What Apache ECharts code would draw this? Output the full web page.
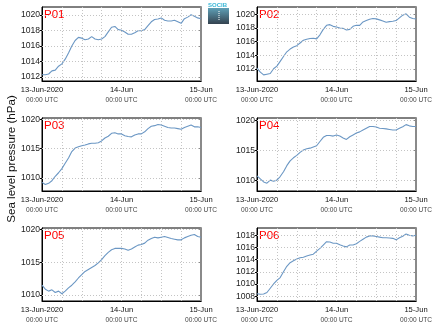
<!DOCTYPE html>
<html><head><meta charset="utf-8">
<script src="https://cdn.jsdelivr.net/npm/echarts@6/dist/echarts.min.js"></script>
<style>html,body{margin:0;padding:0;background:#fff}#c{width:435px;height:327px}</style>
</head><body><div id="c"></div>
<script>
// hours since 13-Jun-2020 00:00 UTC
const hours = [0,1,2,3,4,5,6,7,8,9,10,11,12,13,14,15,16,17,18,19,20,21,22,23,24,25,26,27,28,29,30,31,32,33,34,35,36,37,38,39,40,41,42,43,44,45,46,47,48];
const stationNames = ['P01','P02','P03','P04','P05','P06'];
const p01 = [1012.3,1012.3,1012.4,1012.8,1012.9,1013.4,1013.7,1014.3,1015.1,1016.0,1016.7,1017.1,1017.0,1016.8,1016.9,1017.2,1016.9,1016.8,1016.9,1017.2,1017.8,1018.4,1018.5,1018.1,1018.0,1017.8,1017.5,1017.5,1017.7,1017.95,1017.95,1018.1,1018.6,1019.1,1019.4,1019.45,1019.6,1019.3,1019.2,1019.2,1019.3,1019.1,1018.9,1019.5,1019.7,1020.0,1019.8,1019.6,1019.5];
const p02 = [1012.1,1011.5,1011.1,1011.2,1011.3,1012.0,1012.4,1013.1,1013.8,1014.5,1014.9,1015.2,1015.4,1015.8,1016.2,1016.35,1016.45,1016.5,1016.4,1017.0,1017.8,1018.4,1018.5,1018.25,1018.15,1018.0,1017.95,1017.7,1017.8,1018.25,1018.4,1018.4,1018.9,1019.1,1019.3,1019.4,1019.35,1019.2,1019.05,1018.85,1018.95,1019.0,1019.1,1019.5,1019.9,1020.1,1019.6,1019.4,1019.35];
const p03 = [1009.26,1008.9,1009.1,1009.55,1010.3,1010.9,1011.6,1012.5,1013.4,1014.5,1015.1,1015.3,1015.5,1015.6,1015.8,1015.9,1015.9,1016.0,1016.3,1016.8,1017.1,1017.6,1017.7,1017.5,1017.5,1017.2,1017.05,1017.0,1017.3,1017.5,1017.5,1017.85,1018.4,1018.8,1018.9,1019.1,1019.0,1018.8,1018.6,1018.5,1018.5,1018.4,1018.3,1018.6,1018.8,1019.0,1018.7,1018.7,1018.6];
const p04 = [1010.8,1010.3,1009.8,1009.6,1010.1,1009.9,1010.1,1010.7,1011.5,1012.5,1013.3,1013.8,1014.2,1014.7,1015.1,1015.3,1015.4,1015.6,1015.8,1016.5,1017.2,1017.5,1017.5,1017.4,1017.6,1017.4,1017.1,1016.85,1017.3,1017.6,1017.9,1018.1,1018.4,1018.7,1019.0,1019.0,1018.9,1018.7,1018.65,1018.6,1018.5,1018.4,1018.4,1018.7,1018.95,1019.3,1019.1,1019.0,1019.0];
const p05 = [1011.5,1010.9,1010.6,1010.8,1010.4,1010.6,1010.2,1010.6,1011.1,1011.5,1012.0,1012.6,1013.1,1013.6,1013.9,1014.2,1014.5,1014.9,1015.4,1016.0,1016.5,1016.9,1017.1,1017.1,1017.1,1017.0,1016.8,1017.0,1017.3,1017.6,1017.7,1017.9,1018.35,1018.6,1018.8,1018.7,1018.8,1018.9,1018.75,1018.6,1018.5,1018.4,1018.4,1018.7,1018.9,1019.1,1019.2,1018.9,1018.8];
const p06 = [1008.4,1008.3,1008.35,1008.6,1009.3,1010.0,1010.6,1011.05,1012.0,1012.9,1013.5,1013.8,1014.1,1014.3,1014.4,1014.6,1014.75,1014.9,1015.4,1015.85,1016.4,1016.95,1016.9,1016.7,1016.7,1016.45,1016.25,1016.1,1016.4,1016.4,1016.6,1017.0,1017.35,1017.7,1017.9,1017.9,1017.8,1017.7,1017.6,1017.6,1017.55,1017.5,1017.25,1017.6,1017.85,1018.2,1018.0,1017.9,1018.0];
const seriesValues = [p01,p02,p03,p04,p05,p06];
const yMins = [1011.5,1010.2,1007.8,1008.3,1009.1,1007.2];
const yMaxs = [1021.0,1021.1,1020.2,1020.4,1020.2,1019.2];
const yTicks = [
  [1012,1014,1016,1018,1020],
  [1012,1014,1016,1018,1020],
  [1010,1015,1020],
  [1010,1015,1020],
  [1010,1015,1020],
  [1008,1010,1012,1014,1016,1018]
];
const xTickHours = [0,24,48];
const xTickDates = ['13-Jun-2020','14-Jun','15-Jun'];
const xTickTimes = ['00:00 UTC','00:00 UTC','00:00 UTC'];
const yTitle = 'Sea level pressure (hPa)';

const FONT = 'Liberation Sans, Arial, sans-serif';
const lefts = [42,257];
const tops = [7,118,228];
const heights = [74,73,73];
const W = 159;
const GRIDLINE = {color: '#c4c4c4', type: [1, 2], width: 1};

const grids = [], xAxes = [], yAxes = [], series = [], graphics = [];
for (let i = 0; i < 6; i++) {
  const col = i % 2, row = Math.floor(i / 2);
  grids.push({left: lefts[col], top: tops[row], width: W, height: heights[row],
    show: true, borderColor: '#000', borderWidth: 1, backgroundColor: 'transparent'});
  xAxes.push({gridIndex: i, type: 'value', min: 0, max: 48, interval: 6,
    axisLine: {show: true, onZero: false, lineStyle: {color: '#000', width: 1}},
    axisTick: {show: false},
    splitLine: {show: true, lineStyle: GRIDLINE},
    axisLabel: {customValues: xTickHours, margin: 4, showMinLabel: true, showMaxLabel: true,
      formatter: v => { const k = xTickHours.indexOf(v); return k < 0 ? '' : '{d|' + xTickDates[k] + '}\n{t|' + xTickTimes[k] + '}'; },
      rich: {d: {fontSize: 7.6, color: '#111', fontFamily: FONT, lineHeight: 10},
             t: {fontSize: 6.6, color: '#444', fontFamily: FONT, lineHeight: 10}}}
  });
  yAxes.push({gridIndex: i, type: 'value', min: yMins[i], max: yMaxs[i],
    axisLine: {show: true, onZero: false, lineStyle: {color: '#000', width: 1}},
    axisTick: {show: true, length: 2, customValues: yTicks[i], lineStyle: {color: '#000'}},
    splitLine: {show: false},
    axisLabel: {customValues: yTicks[i], fontSize: 8.6, color: '#222', margin: 2, fontFamily: FONT,
      formatter: v => String(v)}
  });
  // horizontal dotted grid lines at the tick values
  series.push({type: 'line', xAxisIndex: i, yAxisIndex: i, data: [], z: 1, silent: true, animation: false,
    markLine: {silent: true, symbol: ['none', 'none'], label: {show: false}, lineStyle: GRIDLINE, animation: false,
      emphasis: {disabled: true},
      data: yTicks[i].map(v => ({yAxis: v}))}});
  series.push({type: 'line', xAxisIndex: i, yAxisIndex: i, showSymbol: false, animation: false, z: 3,
    lineStyle: {color: '#6b97c4', width: 1.1}, itemStyle: {color: '#6b97c4'},
    data: hours.map((h, k) => [h, seriesValues[i][k]])});
  graphics.push({type: 'text', left: lefts[col] + 2, top: tops[row] + 2,
    style: {text: stationNames[i], fill: '#ff0000', font: '11.5px ' + FONT}});
}
for (let i = 0; i < 6; i++) {
  yAxes.push({gridIndex: i, type: 'value', position: 'right', min: yMins[i], max: yMaxs[i],
    axisLine: {show: true, onZero: false, lineStyle: {color: '#8a8a8a', width: 2}},
    axisTick: {show: true, inside: true, length: 2, customValues: yTicks[i], lineStyle: {color: '#8a8a8a'}},
    axisLabel: {show: false}, splitLine: {show: false}});
}
graphics.push({type: 'text', x: 12, y: 159, rotation: Math.PI / 2,
  style: {text: yTitle, fill: '#111', font: '11.6px ' + FONT, align: 'center', verticalAlign: 'middle'}});
graphics.push({type: 'group', x: 208, y: 2, children: [
  {type: 'text', x: 0, y: 0, style: {text: 'SOCIB', fill: '#39b6d6', font: 'bold 6px ' + FONT}},
  {type: 'rect', shape: {x: 0, y: 6, width: 21, height: 16},
    style: {fill: new echarts.graphic.LinearGradient(0, 0, 0, 1, [{offset: 0, color: '#5e9fb6'}, {offset: 1, color: '#34424f'}])}},
  {type: 'line', shape: {x1: 11, y1: 9, x2: 11, y2: 19}, style: {stroke: '#ffffff', lineWidth: 1, lineDash: [1, 1]}}
]});

const chart = echarts.init(document.getElementById('c'), null, {renderer: 'canvas'});
chart.setOption({animation: false, backgroundColor: '#fff', grid: grids, xAxis: xAxes, yAxis: yAxes, series: series, graphic: graphics});
</script></body></html>
